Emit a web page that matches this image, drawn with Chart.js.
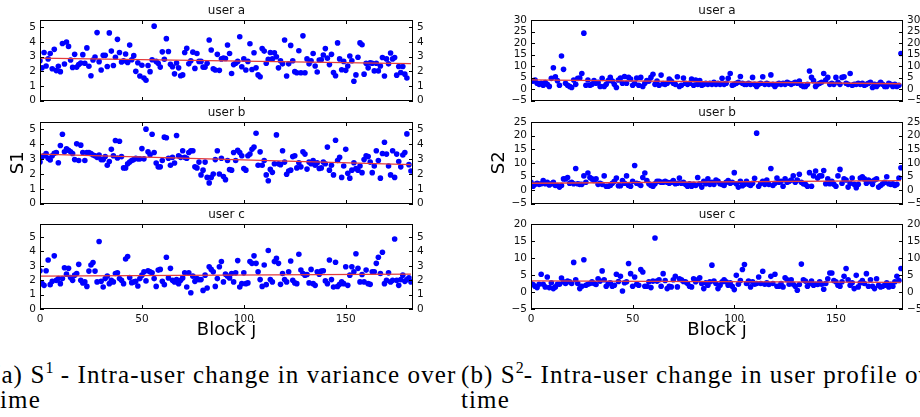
<!DOCTYPE html>
<html>
<head>
<meta charset="utf-8">
<script src="https://cdn.jsdelivr.net/npm/chart.js@4.4.1/dist/chart.umd.min.js"></script>
<style>
  body { margin: 0; width: 920px; height: 417px; overflow: hidden; background: #fff; position: relative; }
  canvas { position: absolute; }
  .cap { position: absolute; top: 362px; font-family: "Liberation Serif", serif; font-size: 25px; line-height: 25px; white-space: nowrap; letter-spacing: 1.1px; color: #000; }
  .cap sup { font-size: 16px; line-height: 0; vertical-align: 10px; letter-spacing: 0; }
</style>
</head>
<body>
<div class="cap" style="left:-8px">(a) S<sup>1</sup> - Intra-user change in variance over<br>time</div>
<div class="cap" style="left:461px">(b) S<sup>2</sup>- Intra-user change in user profile over<br>time</div>
<script>
// S1 (variance) per block
const s1UserA = [2.72, 2.24, 3.29, 2.37, 2.85, 3.22, 2.18, 3.5, 2.05, 2.35,
  1.98, 3.9, 2.5, 4.0, 3.7, 2.77, 2.27, 3.16, 2.29, 2.46,
  2.57, 3.14, 2.55, 3.6, 2.35, 1.7, 2.77, 2.98, 4.64, 2.66,
  2.09, 3.09, 3.09, 2.33, 4.62, 3.38, 2.4, 2.96, 4.18, 3.29,
  2.64, 2.72, 3.18, 2.61, 3.79, 2.79, 3.07, 2.0, 2.59, 1.68,
  2.42, 1.55, 1.39, 2.40, 1.98, 2.79, 5.08, 2.68, 2.55, 2.29,
  3.33, 2.83, 4.23, 3.35, 2.48, 2.31, 1.83, 2.57, 2.24, 1.7,
  1.76, 3.29, 3.57, 2.51, 2.72, 3.31, 2.2, 3.22, 2.68, 2.68,
  2.29, 2.29, 2.55, 4.14, 3.46, 2.18, 2.09, 3.16, 2.07, 2.85,
  2.9, 2.88, 3.8, 3.22, 1.85, 2.46, 2.55, 2.68, 4.36, 2.31,
  2.85, 2.09, 2.68, 3.88, 2.13, 3.27, 2.24, 1.76, 1.63, 3.55,
  3.38, 2.55, 2.83, 3.29, 2.85, 3.27, 3.0, 2.24, 2.72, 2.51,
  4.14, 1.68, 2.51, 3.77, 2.72, 1.98, 1.9, 3.4, 1.9, 4.42,
  1.9, 2.85, 2.51, 2.72, 3.22, 2.37, 1.96, 2.77, 2.79, 3.11,
  3.55, 2.9, 2.46, 3.16, 1.92, 1.7, 3.94, 2.85, 2.11, 2.68,
  2.07, 2.37, 3.05, 2.72, 1.33, 1.76, 2.96, 3.94, 3.81, 1.81,
  2.55, 2.24, 2.59, 2.55, 2.03, 2.55, 2.03, 2.37, 2.94, 1.68,
  2.85, 2.51, 3.25, 2.85, 2.94, 1.74, 2.33, 1.92, 2.33, 1.81,
  1.55];
const s1UserB = [2.8, 3.17, 3.23, 3.38, 3.06, 2.95, 3.23, 3.4, 3.45,
  2.76, 3.92, 4.68, 3.49, 3.7, 3.6, 3.49, 3.38, 2.97, 4.03,
  2.91, 3.94, 3.45, 2.91, 3.45, 3.45, 3.38, 3.28, 3.23, 3.12,
  3.28, 2.97, 2.97, 3.17, 2.59, 2.84, 3.66, 3.23, 4.25, 3.08,
  4.2, 3.17, 2.41, 2.41, 2.69, 2.8, 2.91, 2.97, 3.06, 3.02,
  3.02, 3.71, 3.02, 5.02, 3.49, 3.3, 4.68, 3.45, 2.74, 2.48,
  2.48, 2.91, 4.48, 4.44, 3.06, 2.59, 3.12, 2.74, 4.59, 3.23,
  3.12, 3.56, 3.12, 3.06, 3.45, 3.56, 3.56, 2.48, 2.41, 2.8,
  1.94, 2.26, 2.8, 1.77, 1.4, 1.77, 2.0, 2.97, 3.56, 2.0,
  3.06, 1.83, 1.62, 2.91, 2.3,
  2.26, 3.45, 2.91, 3.6, 3.45, 3.23,
  2.37, 2.26, 3.23, 3.34, 3.66, 3.81, 4.74, 2.59, 3.49, 2.59,
  2.91, 1.94, 1.55, 2.31, 2.11, 2.69, 4.63, 2.69, 2.63, 3.56,
  2.8, 1.98, 2.2, 2.26, 3.17, 3.23, 2.41, 2.76, 2.48, 3.49,
  3.34, 2.33, 2.8, 2.69, 2.91, 2.59, 2.76, 2.37, 2.41, 2.8,
  2.69, 3.81, 2.26, 2.59, 1.94, 4.27, 2.91, 3.12, 1.77, 2.54,
  3.66, 2.05, 1.72, 2.26, 2.76, 2.37, 2.26, 2.54, 2.09, 2.97,
  3.23, 3.17, 2.8, 2.09, 2.54, 3.56, 2.91, 1.72, 3.38, 4.14,
  3.34, 2.54, 1.94, 3.56, 1.77, 3.34, 2.84, 2.48, 3.28, 3.45,
  4.7, 2.63, 2.2];
const s1UserC = [2.65, 1.76, 1.64, 2.65, 3.4, 1.69, 1.92, 3.69, 1.99,
  2.11, 1.76, 2.11, 2.86, 2.42, 2.82, 2.18, 1.99, 2.35,
  2.46, 3.1, 1.99, 1.81, 1.88, 1.57, 2.63, 3.05, 3.22, 2.63,
  1.88, 4.69, 1.92, 1.53, 2.11, 2.28, 1.76, 1.99, 1.88, 2.46,
  2.51, 2.11, 1.99, 1.76, 3.47, 3.64, 2.18, 1.83, 1.88, 1.92,
  1.6, 2.11, 2.35, 2.58, 1.95, 2.65, 2.58, 2.51, 2.11, 1.57,
  2.7, 2.75, 1.92, 1.69, 3.59, 2.16, 2.82, 1.99, 1.88, 2.04,
  1.76, 1.99, 2.16, 2.51, 1.53, 2.51, 1.13, 2.28, 1.92, 2.11,
  2.04, 2.04, 1.29, 2.35, 1.46, 2.93, 2.75, 2.58, 1.57, 2.11,
  2.93, 3.29, 1.88,
  2.42, 2.28, 2.16, 2.46, 1.88, 2.51, 3.36, 1.53, 1.76,
  2.51, 1.76, 1.81, 3.29, 3.17, 3.69, 3.17, 2.58, 2.04, 1.57,
  3.05, 1.69, 4.06, 2.04, 1.88, 3.29, 3.52, 3.17, 1.71, 2.46,
  2.04, 1.88, 2.58, 3.33, 1.99, 1.81, 1.76, 3.8, 2.7, 2.46,
  2.35, 2.39, 1.81, 2.75, 1.76, 1.64, 2.58, 2.42, 2.63, 2.65,
  1.95, 1.76, 3.4, 2.04, 1.53, 3.24, 1.57, 1.71, 1.88, 1.76,
  2.93, 1.64, 2.35, 2.93, 2.58, 3.83, 2.82, 1.88, 2.39,
  1.88, 2.7, 1.76, 1.71, 2.58, 2.58, 3.17, 3.59, 2.46, 3.94,
  1.76, 1.99, 2.51, 1.88, 1.99, 4.86, 1.99, 1.64, 2.04, 2.35,
  1.92, 2.04, 2.16, 1.88];

// S2 (user profile) per block
const s2UserA = [3.7, 3.5, 4.0, 2.6, 2.1, 2.6, 1.7, 2.9, 2.1,
  1.2, 4.7, 9.3, 5.4, 3.7, 1.7, 14.4, 8.6, 2.6, 1.7,
  1.2, 0.7, 4.0, 2.1, 4.7, 4.8, 6.8, 24.3, 1.7, 4.0,
  1.7, 2.1, 3.7, 2.6, 3.0, 1.2, 4.7, 1.2, 2.1, 3.7,
  5.1, 3.5, 2.1, 0.7, 4.0, 4.8, 2.6, 5.5, 2.6,
  5.1, 4.4, 1.7, 2.6, 4.8, 1.7, 5.1, 1.2, 2.6, 3.7,
  3.5, 5.1, 6.5, 2.1, 3.5, 1.7, 6.1, 2.4, 2.1, 2.6,
  4.4, 3.5, 2.6, 2.1, 5.4, 1.2, 1.7, 4.8, 2.6, 2.1,
  2.6, 4.4, 1.7, 4.0, 2.1, 3.7, 1.7, 2.1, 2.6,
  2.1, 2.6, 2.1, 3.0, 2.1, 2.6, 2.1, 4.7, 2.1, 2.6,
  4.7, 6.8, 1.7, 2.1, 2.6, 3.0, 5.5, 2.6, 2.1, 2.1,
  2.6, 2.1, 5.1, 2.1, 1.2, 2.1, 2.6, 5.4, 2.1, 2.6,
  2.1, 6.2, 2.1, 1.2, 2.1, 2.6, 2.1, 2.6, 2.1,
  3.0, 2.6, 2.1, 2.6, 3.0, 2.6, 3.5, 1.7, 1.2, 1.2,
  2.1, 7.9, 5.1, 3.7, 1.2, 2.1, 2.6, 3.0, 6.8, 4.0,
  5.1, 2.1, 2.6, 2.1, 5.1, 3.0, 2.1, 5.1, 5.4, 2.6,
  2.1, 6.8, 1.7, 2.1, 2.1, 2.6, 2.1, 2.6, 1.7, 2.1,
  2.6, 3.0, 0.7, 2.1, 1.2, 2.1, 3.0, 2.1, 1.2, 1.2,
  2.6, 2.1, 1.2, 2.1, 1.2, 1.7, 15.5];
const s2UserB = [2.9, 1.4, 2.1, 2.5, 2.1, 2.3, 3.5, 2.3, 2.9,
  1.9, 2.3, 2.9, 1.7, 1.7, 1.1, 1.7, 4.1, 4.1, 4.6,
  2.5, 2.9, 2.3, 7.9, 2.3, 2.1, 2.1, 5.2, 2.9,
  6.3, 4.6, 4.1, 3.5, 4.1, 2.1, 2.5, 2.1, 5.2, 1.4,
  1.4, 1.7, 2.5, 3.2, 4.4, 1.6, 1.6, 3.5, 2.5, 5.2,
  1.7, 1.4, 3.2, 9.0, 2.5, 2.3, 1.7, 4.6, 6.3, 3.5,
  2.3, 1.7, 1.4, 2.3, 3.2, 3.2, 2.9, 2.9, 3.2, 2.9,
  2.5, 2.9, 3.5, 2.3, 2.5, 4.4, 2.5, 2.9, 2.1, 1.4,
  2.3, 1.4, 2.1, 1.7, 4.6, 2.3, 1.1, 3.2, 2.3, 4.1,
  2.1, 2.9, 2.1, 3.7, 3.2, 2.3, 2.1, 1.7, 2.9, 3.5,
  2.5, 2.9, 6.4, 2.3, 1.1, 3.2, 1.6, 2.1, 3.2,
  2.1, 1.7, 2.5, 4.3, 20.9, 1.4, 2.5, 3.2, 2.1, 3.7,
  2.1, 7.9, 1.7, 2.5, 4.4, 2.9, 3.2, 1.4, 4.1, 2.9,
  3.2, 3.7, 5.2, 2.9, 3.7, 5.8, 2.9, 2.3, 2.1, 1.4,
  6.4, 1.4, 5.2, 7.0, 4.4, 5.2, 5.2, 7.2, 2.3,
  4.1, 2.3, 3.2, 2.1, 1.4, 5.2, 7.6, 2.5, 4.1, 3.7,
  1.1, 2.5, 4.4, 2.1, 0.9, 2.1, 4.4, 4.9, 4.1, 2.5,
  3.7, 3.2, 2.1, 3.7, 4.1, 1.1, 1.7, 2.3, 2.9, 4.9,
  2.3, 2.1, 2.3, 1.7, 2.1, 4.4, 8.2];
const s2UserC = [2.5, 2.2, 1.7, 1.3, 2.3, 5.2, 2.3, 1.5, 4.4, 1.3,
  2.7, 1.0, 1.5, 2.3, 2.3, 4.1, 3.0, 2.5, 3.2, 3.0,
  2.5, 8.7, 3.6, 2.5, 1.0, 1.7, 9.5, 2.0, 2.3, 2.5,
  3.0, 2.5, 2.2, 3.9, 3.2, 6.2, 3.6, 1.7, 2.5, 2.7,
  1.7, 2.0, 5.2, 3.1, 4.6, 0.3, 2.7, 3.0, 8.4, 5.4,
  1.7, 4.4, 2.3, 2.0, 6.6, 5.9, 1.7, 1.7, 3.0, 1.3,
  3.2, 15.9, 3.2, 3.6, 1.7, 5.4, 3.4, 1.0, 1.7, 1.5,
  3.6, 4.6, 1.5, 3.9, 3.6, 3.1, 3.0, 2.5, 1.7,
  1.5, 3.9, 3.0, 3.6, 4.2, 2.5, 1.0, 2.7, 2.0,
  3.0, 7.9, 3.2, 2.5, 1.0, 2.0, 3.0, 3.6, 3.0, 2.0,
  2.7, 1.7, 0.7, 4.9, 2.3, 3.4, 6.6, 8.1, 2.5, 3.2,
  1.5, 3.0, 2.3, 2.5, 4.4, 2.5, 6.1, 2.3, 2.7, 2.2,
  4.6, 2.5, 5.2, 1.7, 1.7, 2.5, 1.5, 4.2, 3.6,
  2.3, 3.6, 2.3, 1.7, 0.5, 2.2, 8.2, 3.6, 3.2, 1.7,
  2.5, 3.2, 2.0, 2.3, 2.2, 3.0, 2.3, 0.8, 2.5,
  3.9, 5.6, 5.6, 3.4, 3.0, 2.0, 1.7, 3.0, 4.6, 6.9,
  3.6, 2.0, 2.7, 1.0, 4.9, 1.5, 2.7, 3.4, 2.5, 5.4,
  1.7, 3.6, 1.7, 1.0, 3.9, 2.0, 1.5, 1.7, 2.0, 2.7,
  1.5, 2.3, 1.7, 3.0, 4.6, 3.4, 6.9];

// red fitted lines: value at block 0 and at the last block
const s1Trend = [[2.9, 2.53], [3.34, 2.63], [2.28, 2.42]];
const s2Trend = [[4.0, 2.35], [2.5, 3.5], [3.3, 2.85]];
const trendEnd = 182;

const users = ["user a", "user b", "user c"];
const xTicks = [0, 50, 100, 150];
const s1Ticks = [0, 1, 2, 3, 4, 5];
const s2Ticks = [[-5, 0, 5, 10, 15, 20, 25, 30], [-5, 0, 5, 10, 15, 20, 25], [-5, 0, 5, 10, 15, 20]];
const s1Range = [[0, 5.5], [0, 5.5], [0, 5.9]];
const s2Range = [[-5, 30], [-5, 25], [-5, 20]];

Chart.defaults.font.family = "DejaVu Sans";
Chart.defaults.color = "#111";

// black frame plus matplotlib style inward ticks
const frame = {
  id: "frame",
  afterDatasetsDraw(chart) {
    const { ctx, chartArea: a, scales } = chart;
    const l = Math.round(a.left), r = Math.round(a.right), t = Math.round(a.top), b = Math.round(a.bottom);
    ctx.save();
    ctx.strokeStyle = "#000";
    ctx.lineWidth = 1;
    ctx.beginPath();
    scales.x.ticks.forEach((tk) => {
      const px = Math.round(scales.x.getPixelForValue(tk.value)) + 0.5;
      ctx.moveTo(px, b); ctx.lineTo(px, b - 4);
      ctx.moveTo(px, t); ctx.lineTo(px, t + 4);
    });
    scales.y.ticks.forEach((tk) => {
      const py = Math.round(scales.y.getPixelForValue(tk.value)) + 0.5;
      ctx.moveTo(l, py); ctx.lineTo(l + 4, py);
      ctx.moveTo(r, py); ctx.lineTo(r - 4, py);
    });
    ctx.stroke();
    ctx.strokeRect(l + 0.5, t + 0.5, r - l - 1, b - t - 1);
    ctx.restore();
  },
};

const minus = (v) => String(v).replace("-", "\u2212");

const cols = [
  { left: 0, w: 440, yl: 40, yr: 27, ylabel: "S1", titlePad: 9, data: [s1UserA, s1UserB, s1UserC], trend: s1Trend, range: s1Range, ticks: [s1Ticks, s1Ticks, s1Ticks] },
  { left: 460, w: 460, yl: 71, yr: 17, ylabel: "S2", titlePad: 30, data: [s2UserA, s2UserB, s2UserC], trend: s2Trend, range: s2Range, ticks: s2Ticks },
];
const rows = [
  { top: 0, plotH: 84, xh: 7 },
  { top: 102, plotH: 85, xh: 7 },
  { top: 204, plotH: 85, xh: 40 },
];

function subplot(col, r) {
  const row = rows[r];
  const bottom = r === 2;
  const c = document.createElement("canvas");
  c.width = col.w;
  c.height = 20 + row.plotH + row.xh;
  c.style.left = col.left + "px";
  c.style.top = row.top + "px";
  document.body.appendChild(c);

  const vals = col.data[r];
  const [lo, hi] = col.range[r];
  const yTicks = col.ticks[r];
  const yTickOpts = { padding: 4, autoSkip: false, font: { size: 10.5 }, color: "#111", callback: minus };

  new Chart(c, {
    type: "scatter",
    data: {
      datasets: [
        {
          type: "line",
          data: [{ x: 0, y: col.trend[r][0] }, { x: trendEnd, y: col.trend[r][1] }],
          borderColor: "#e33b3b",
          borderWidth: 1.3,
          pointRadius: 0,
          order: 0,
        },
        {
          data: vals.map((v, i) => ({ x: i, y: v })),
          backgroundColor: "#0000ff",
          pointRadius: 2.8,
          borderWidth: 0,
          clip: 0,
          order: 1,
        },
      ],
    },
    options: {
      responsive: false,
      animation: false,
      events: [],
      layout: { padding: 0 },
      plugins: {
        legend: { display: false },
        tooltip: { enabled: false },
        title: {
          display: true,
          text: users[r],
          fullSize: false,
          color: "#111",
          font: { size: 12, weight: "normal", lineHeight: 14 / 12 },
          padding: { top: 4, bottom: 2 },
        },
      },
      scales: {
        x: {
          type: "linear",
          min: 0,
          max: 183,
          grid: { display: false, drawTicks: false },
          border: { display: false },
          afterBuildTicks: (s) => { s.ticks = xTicks.map((v) => ({ value: v })); },
          afterFit: (s) => { s.height = row.xh; },
          ticks: { display: bottom, autoSkip: false, padding: 4, maxRotation: 0, font: { size: 10.5 }, color: "#111" },
          title: { display: bottom, text: "Block j", color: "#000", font: { size: 18 }, padding: { top: 0, bottom: 8 } },
        },
        y: {
          type: "linear",
          position: "left",
          min: lo,
          max: hi,
          grid: { display: false, drawTicks: false },
          border: { display: false },
          afterBuildTicks: (s) => { s.ticks = yTicks.map((v) => ({ value: v })); },
          afterFit: (s) => { s.width = col.yl; },
          ticks: yTickOpts,
          title: { display: r === 1, text: col.ylabel, color: "#000", font: { size: 18 }, padding: { top: col.titlePad - 1, bottom: 0 } },
        },
        y2: {
          type: "linear",
          position: "right",
          min: lo,
          max: hi,
          grid: { display: false, drawTicks: false },
          border: { display: false },
          afterBuildTicks: (s) => { s.ticks = yTicks.map((v) => ({ value: v })); },
          afterFit: (s) => { s.width = col.yr; },
          ticks: yTickOpts,
        },
      },
    },
    plugins: [frame],
  });
}

cols.forEach((col) => rows.forEach((row, r) => subplot(col, r)));
</script>
</body>
</html>
